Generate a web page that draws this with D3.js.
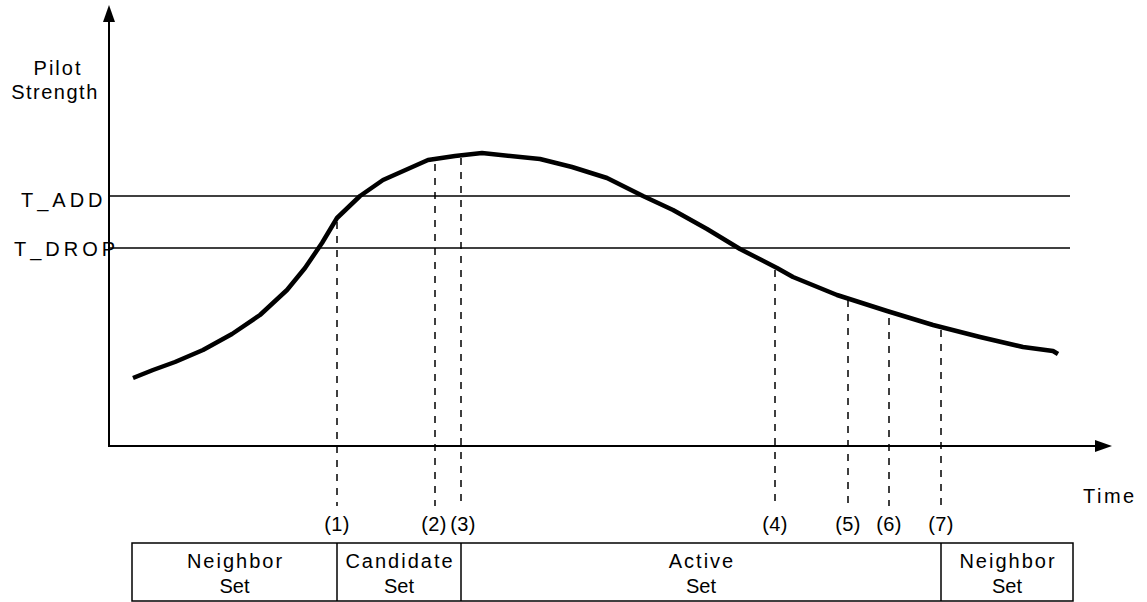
<!DOCTYPE html>
<html>
<head>
<meta charset="utf-8">
<script src="https://cdn.jsdelivr.net/npm/d3@7"></script>
<style>
  body { margin: 0; background: #fff; }
  text { font-family: "Liberation Sans", Arial, sans-serif; fill: #000; }
</style>
</head>
<body>
<div id="graph"></div>
<script>
'use strict';

// pilot strength curve (time, strength)
const curveTime = [2.4, 4.4, 6.6, 9.4, 12.3, 15.1, 17.8, 19.6, 21.3, 22.8, 25.1, 27.4, 31.9, 34.6, 37.3,
  43.1, 46.3, 49.8, 53.4, 56.4, 59.8, 63.1, 66.8, 68.4, 72.8, 77.8, 82.4, 87.1, 91.4, 94.4, 94.9];
const curveStrength = [17, 19, 21, 24, 28, 32.75, 39, 44.5, 50.75, 57, 62.5, 66.5, 71.5, 72.5, 73.25,
  71.75, 69.75, 67, 62.5, 59, 54.25, 49.25, 44.5, 42.25, 37.75, 33.75, 30.25, 27.25, 24.75, 23.75, 23];

// thresholds
const thresholdNames = ["T_ADD", "T_DROP"];
const thresholdValues = [62.5, 49.5];

// events marked with dashed lines
const eventLabels = ["(1)", "(2)", "(3)", "(4)", "(5)", "(6)", "(7)"];
const eventTimes = [22.8, 32.6, 35.2, 66.6, 73.9, 78.0, 83.2];
const eventStrength = [56, 70.5, 72, 44, 36.5, 32, 29];

// set membership table
const setNames = [["Neighbor", "Set"], ["Candidate", "Set"], ["Active", "Set"], ["Neighbor", "Set"]];
const setBounds = [2.3, 22.8, 35.2, 83.2, 96.4];

(function() {
  const svg = d3.select('#graph').append('svg')
    .attr('width', 1147)
    .attr('height', 602);

  const x = d3.scaleLinear().domain([0, 100]).range([109, 1109]);
  const y = d3.scaleLinear().domain([0, 100]).range([446, 46]);

  // axes with arrow heads
  svg.append('line')
    .attr('x1', x(0)).attr('y1', y(0) + 1)
    .attr('x2', x(0)).attr('y2', 20)
    .attr('stroke', '#000').attr('stroke-width', 2);
  svg.append('path')
    .attr('d', `M${x(0)},5 L${x(0) - 6},22 L${x(0) + 6},22 Z`)
    .attr('fill', '#000');

  svg.append('line')
    .attr('x1', x(0)).attr('y1', y(0))
    .attr('x2', 1097).attr('y2', y(0))
    .attr('stroke', '#000').attr('stroke-width', 2);
  svg.append('path')
    .attr('d', `M1112,${y(0)} L1095,${y(0) - 6} L1095,${y(0) + 6} Z`)
    .attr('fill', '#000');

  // axis titles
  svg.append('text').attr('x', 58).attr('y', 75)
    .attr('text-anchor', 'middle').style('font-size', '20px').style('letter-spacing', '2px').text('Pilot');
  svg.append('text').attr('x', 55).attr('y', 99)
    .attr('text-anchor', 'middle').style('font-size', '20px').style('letter-spacing', '1.5px').text('Strength');
  svg.append('text').attr('x', 1083).attr('y', 503)
    .style('font-size', '20px').style('letter-spacing', '2.5px').text('Time');

  // threshold lines
  svg.selectAll('.thr')
    .data(thresholdValues)
    .enter().append('line')
    .attr('x1', x(0)).attr('x2', x(96.1))
    .attr('y1', d => y(d)).attr('y2', d => y(d))
    .attr('stroke', '#000').attr('stroke-width', 1.5);

  svg.selectAll('.thrLabel')
    .data(thresholdNames)
    .enter().append('text')
    .attr('x', (d, i) => i == 0 ? 21 : 14)
    .attr('y', (d, i) => y(thresholdValues[i]) + (i == 0 ? 11 : 8))
    .style('font-size', '20px')
    .style('letter-spacing', '4px')
    .text(d => d);

  // dashed event lines
  svg.selectAll('.evt')
    .data(eventTimes)
    .enter().append('line')
    .attr('x1', d => x(d)).attr('x2', d => x(d))
    .attr('y1', (d, i) => y(eventStrength[i]))
    .attr('y2', 506)
    .attr('stroke', '#000').attr('stroke-width', 1.5)
    .attr('stroke-dasharray', '7,7');

  svg.selectAll('.evtLabel')
    .data(eventLabels)
    .enter().append('text')
    .attr('x', (d, i) => x(eventTimes[i]) + (i == 1 ? -1 : i == 2 ? 2 : 0))
    .attr('y', 531)
    .attr('text-anchor', 'middle')
    .style('font-size', '20px')
    .style('letter-spacing', '0.3px')
    .text(d => d);

  // the pilot strength curve
  const pts = curveTime.map((t, i) => [t, curveStrength[i]]);
  svg.append('path')
    .datum(pts)
    .attr('d', d3.line().x(d => x(d[0])).y(d => y(d[1])).curve(d3.curveLinear))
    .attr('fill', 'none')
    .attr('stroke', '#000')
    .attr('stroke-width', 4.5)
    .attr('stroke-linejoin', 'round');

  // set table
  const top = 543, bottom = 601;
  svg.append('rect')
    .attr('x', x(setBounds[0])).attr('y', top)
    .attr('width', x(setBounds[4]) - x(setBounds[0]))
    .attr('height', bottom - top)
    .attr('fill', 'none').attr('stroke', '#000').attr('stroke-width', 1.5);

  svg.selectAll('.divider')
    .data(setBounds.slice(1, 4))
    .enter().append('line')
    .attr('x1', d => x(d)).attr('x2', d => x(d))
    .attr('y1', top).attr('y2', bottom)
    .attr('stroke', '#000').attr('stroke-width', 1.5);

  const cells = svg.selectAll('.cell')
    .data(setNames)
    .enter().append('text')
    .attr('text-anchor', 'middle')
    .style('font-size', '20px');
  cells.append('tspan')
    .attr('x', (d, i) => (x(setBounds[i]) + x(setBounds[i + 1])) / 2 + 1)
    .attr('y', 568)
    .style('letter-spacing', '2px')
    .text(d => d[0]);
  cells.append('tspan')
    .attr('x', (d, i) => (x(setBounds[i]) + x(setBounds[i + 1])) / 2)
    .attr('y', 593)
    .text(d => d[1]);
})();
</script>
</body>
</html>
